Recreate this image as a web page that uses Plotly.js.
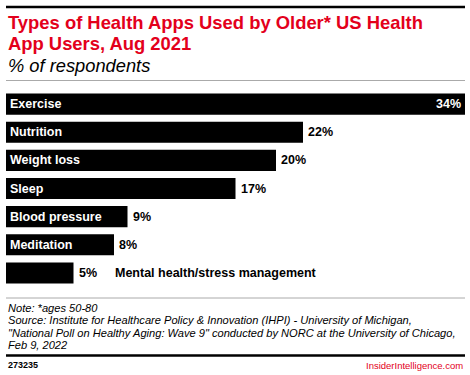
<!DOCTYPE html>
<html>
<head>
<meta charset="utf-8">
<script src="https://cdn.plot.ly/plotly-3.0.1.min.js"></script>
<style>html,body{margin:0;padding:0;background:#fff;}#chart{width:470px;height:375px;}</style>
</head>
<body>
<div id="chart"></div>
<script>
const categories = ["Exercise", "Nutrition", "Weight loss", "Sleep", "Blood pressure", "Meditation", "Mental health/stress management"];
const values = [34, 22, 20, 17, 9, 8, 5];
const valueLabels = ["34%", "22%", "20%", "17%", "9%", "8%", "5%"];
const titleLines = ["Types of Health Apps Used by Older* US Health", "App Users, Aug 2021"];
const subtitle = "% of respondents";
const noteLines = [
  "Note: *ages 50-80",
  "Source: Institute for Healthcare Policy &amp; Innovation (IHPI) - University of Michigan,",
  "\"National Poll on Healthy Aging: Wave 9\" conducted by NORC at the University of Chicago,",
  "Feb 9, 2022"
];
const chartId = "273235";
const brand = "InsiderIntelligence.com";

const FONT = "Liberation Sans, Arial, sans-serif";
const RED = "#e3001b";

const H = 375, T = 90, B = 88, PH = H - T - B;
function py(px) { return (H - B - px) / PH; }

const annotations = [];
const maxV = Math.max(...values);
categories.forEach((c, i) => {
  const small = values[i] < 6;
  const isMax = values[i] === maxV;
  annotations.push({
    x: values[i], y: c, xref: "x", yref: "y",
    text: valueLabels[i], showarrow: false,
    xanchor: isMax ? "right" : "left", xshift: isMax ? -2 : 3,
    font: {family: FONT, size: 12.5, color: isMax ? "#fff" : "#000", weight: "bold"}
  });
  annotations.push({
    x: small ? values[i] : 0, y: c, xref: "x", yref: "y",
    text: c, showarrow: false, xanchor: "left", xshift: small ? 39 : 2,
    font: {family: FONT, size: 12.5, color: small ? "#000" : "#fff", weight: "bold"}
  });
});

titleLines.forEach((t, i) => {
  annotations.push({xref: "paper", yref: "paper", x: 0, y: py(22 + i * 21.5), xanchor: "left", yanchor: "middle",
    text: t, showarrow: false, font: {family: FONT, size: 18.4, color: RED, weight: "bold"}});
});
annotations.push({xref: "paper", yref: "paper", x: 0, y: py(65.5), xanchor: "left", yanchor: "middle",
  text: "<i>" + subtitle + "</i>", showarrow: false, font: {family: FONT, size: 18.3, color: "#000"}});

noteLines.forEach((t, i) => {
  annotations.push({xref: "paper", yref: "paper", x: 0, y: py(307.5 + i * 12.5), xanchor: "left", yanchor: "middle",
    text: "<i>" + t + "</i>", showarrow: false, font: {family: FONT, size: 11.1, color: "#000"}});
});
annotations.push(
  {xref: "paper", yref: "paper", x: 0, y: py(365), xanchor: "left", yanchor: "middle",
   text: "<b>" + chartId + "</b>", showarrow: false, font: {family: FONT, size: 9, color: "#000"}},
  {xref: "paper", yref: "paper", x: 1, y: py(365), xanchor: "right", yanchor: "middle",
   text: brand, showarrow: false, font: {family: FONT, size: 9.5, color: RED}}
);

const layout = {
  width: 470, height: 375,
  margin: {l: 6, r: 5, t: T, b: B, pad: 0},
  paper_bgcolor: "#fff", plot_bgcolor: "#fff",
  showlegend: false,
  bargap: 0.25,
  xaxis: {range: [0, 34], visible: false, fixedrange: true},
  yaxis: {type: "category", autorange: "reversed", visible: false, fixedrange: true},
  annotations: annotations,
  shapes: [
    {type: "line", xref: "paper", yref: "paper", x0: 0, x1: 1, y0: py(7), y1: py(7), line: {color: "#000", width: 2.5}},
    {type: "line", xref: "paper", yref: "paper", x0: 0, x1: 1, y0: py(80.5), y1: py(80.5), line: {color: "#aaa", width: 1}},
    {type: "line", xref: "paper", yref: "paper", x0: 0, x1: 1, y0: py(298), y1: py(298), line: {color: "#aaa", width: 1}},
    {type: "line", xref: "paper", yref: "paper", x0: 0, x1: 1, y0: py(355.5), y1: py(355.5), line: {color: "#000", width: 2.5}}
  ]
};

const trace = {
  type: "bar", orientation: "h",
  x: values, y: categories,
  marker: {color: "#000"},
  hoverinfo: "none"
};

Plotly.newPlot("chart", [trace], layout, {displayModeBar: false, staticPlot: true});
</script>
</body>
</html>
